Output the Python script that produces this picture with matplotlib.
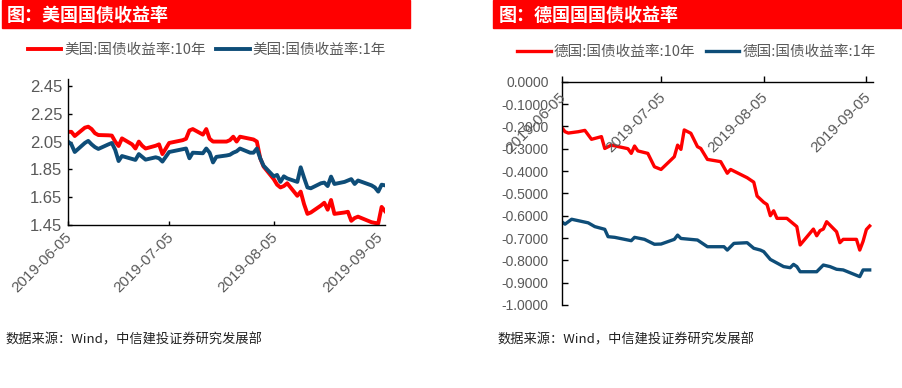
import matplotlib
matplotlib.use('Agg')
import matplotlib.pyplot as plt
import matplotlib.transforms as mtransforms
from matplotlib.patches import Rectangle
from matplotlib.font_manager import FontProperties
import pandas as pd

plt.rcParams['font.family'] = ['Liberation Sans', 'Noto Sans CJK SC', 'DejaVu Sans']
CJK = ['Noto Sans CJK SC', 'DejaVu Sans']

# ---------------- data ----------------
us_dates = ['2019-06-05', '2019-06-06', '2019-06-07', '2019-06-10', '2019-06-11', '2019-06-12',
            '2019-06-13', '2019-06-14', '2019-06-17', '2019-06-18', '2019-06-19', '2019-06-20',
            '2019-06-21', '2019-06-24', '2019-06-25', '2019-06-26', '2019-06-27', '2019-06-28',
            '2019-07-01', '2019-07-02', '2019-07-03', '2019-07-05', '2019-07-08', '2019-07-09',
            '2019-07-10', '2019-07-11', '2019-07-12', '2019-07-15', '2019-07-16', '2019-07-17',
            '2019-07-18', '2019-07-19', '2019-07-22', '2019-07-23', '2019-07-24', '2019-07-25',
            '2019-07-26', '2019-07-29', '2019-07-30', '2019-07-31',
            '2019-08-01', '2019-08-02', '2019-08-05', '2019-08-06', '2019-08-07', '2019-08-08',
            '2019-08-09', '2019-08-12', '2019-08-13', '2019-08-14', '2019-08-15', '2019-08-16',
            '2019-08-19', '2019-08-20', '2019-08-21', '2019-08-22', '2019-08-23', '2019-08-26',
            '2019-08-27', '2019-08-28', '2019-08-29', '2019-08-30',
            '2019-09-03', '2019-09-04', '2019-09-05', '2019-09-06', '2019-09-07']
us_10y = [2.12, 2.12, 2.09, 2.15, 2.157, 2.14, 2.11, 2.097, 2.095, 2.093, 2.05, 2.018,
          2.073, 2.03, 2.00, 2.05, 2.02, 2.00,
          2.02, 2.03, 1.96, 2.04, 2.055, 2.06, 2.07, 2.13, 2.14, 2.10, 2.14, 2.07,
          2.05, 2.05, 2.05, 2.06, 2.085, 2.05, 2.085, 2.07, 2.065, 2.05,
          1.93, 1.87, 1.78, 1.74, 1.72, 1.73, 1.75, 1.66, 1.69, 1.60, 1.53, 1.54,
          1.59, 1.61, 1.56, 1.63, 1.53, 1.54, 1.545, 1.48, 1.50, 1.51,
          1.47, 1.465, 1.462, 1.58, 1.55]
us_1y = [2.05, 2.03, 1.975, 2.04, 2.055, 2.03, 2.01, 1.997, 2.03, 2.04, 1.99, 1.91,
         1.946, 1.925, 1.918, 1.96, 1.94, 1.92,
         1.937, 1.93, 1.906, 1.975, 1.99, 1.995, 2.00, 1.93, 1.97, 1.966, 2.00, 1.97,
         1.90, 1.94, 1.95, 1.955, 1.97, 1.98, 2.00, 1.97, 1.97, 2.00,
         1.93, 1.876, 1.80, 1.81, 1.76, 1.80, 1.785, 1.76, 1.865, 1.79, 1.72, 1.714,
         1.75, 1.755, 1.73, 1.798, 1.745, 1.76, 1.77, 1.78, 1.745, 1.77,
         1.735, 1.72, 1.69, 1.74, 1.735]

de10_dates = ['2019-06-05', '2019-06-06', '2019-06-07', '2019-06-10', '2019-06-12', '2019-06-14',
              '2019-06-17', '2019-06-18', '2019-06-20', '2019-06-25', '2019-06-26', '2019-06-27',
              '2019-06-28', '2019-07-01', '2019-07-03', '2019-07-05', '2019-07-09', '2019-07-10',
              '2019-07-11', '2019-07-12', '2019-07-14', '2019-07-16', '2019-07-17', '2019-07-19',
              '2019-07-23', '2019-07-25', '2019-07-26', '2019-07-31', '2019-08-01', '2019-08-02',
              '2019-08-03', '2019-08-05', '2019-08-06', '2019-08-07', '2019-08-08', '2019-08-09',
              '2019-08-12', '2019-08-15', '2019-08-16', '2019-08-20', '2019-08-21', '2019-08-22',
              '2019-08-23', '2019-08-24', '2019-08-27', '2019-08-28', '2019-08-29', '2019-09-02',
              '2019-09-03', '2019-09-04', '2019-09-05', '2019-09-06']
de_10y = [-0.205, -0.224, -0.230, -0.224, -0.218, -0.258,
          -0.246, -0.299, -0.284, -0.300, -0.321, -0.288,
          -0.310, -0.321, -0.381, -0.393, -0.336, -0.284,
          -0.303, -0.216, -0.231, -0.291, -0.299, -0.348,
          -0.358, -0.410, -0.393, -0.430, -0.440, -0.450,
          -0.512, -0.540, -0.550, -0.600, -0.578, -0.612,
          -0.612, -0.649, -0.731, -0.660, -0.690, -0.667,
          -0.660, -0.627, -0.672, -0.721, -0.706, -0.706,
          -0.754, -0.715, -0.662, -0.646]

de1_dates = ['2019-06-05', '2019-06-06', '2019-06-08', '2019-06-13', '2019-06-15', '2019-06-18',
             '2019-06-19', '2019-06-21', '2019-06-26', '2019-06-27', '2019-06-30', '2019-07-03',
             '2019-07-05', '2019-07-09', '2019-07-10', '2019-07-11', '2019-07-16', '2019-07-19',
             '2019-07-24', '2019-07-25', '2019-07-27', '2019-07-31', '2019-08-02', '2019-08-04',
             '2019-08-05', '2019-08-07', '2019-08-11', '2019-08-13', '2019-08-14', '2019-08-15',
             '2019-08-16', '2019-08-21', '2019-08-23', '2019-08-25', '2019-08-27', '2019-08-29',
             '2019-09-03', '2019-09-04', '2019-09-06']
de_1y = [-0.627, -0.638, -0.616, -0.632, -0.649, -0.661,
         -0.694, -0.697, -0.712, -0.697, -0.706, -0.728,
         -0.727, -0.706, -0.687, -0.702, -0.709, -0.739,
         -0.739, -0.754, -0.724, -0.721, -0.746, -0.754,
         -0.761, -0.796, -0.828, -0.833, -0.818, -0.828,
         -0.851, -0.851, -0.821, -0.828, -0.840, -0.843,
         -0.873, -0.843, -0.843]

date_ticks = ['2019-06-05', '2019-07-05', '2019-08-05', '2019-09-05']
us_yticks = [1.45, 1.65, 1.85, 2.05, 2.25, 2.45]
de_yticks = [0.0, -0.1, -0.2, -0.3, -0.4, -0.5, -0.6, -0.7, -0.8, -0.9, -1.0]

us_labels = ['美国:国债收益率:10年', '美国:国债收益率:1年']
de_labels = ['德国:国债收益率:10年', '德国:国债收益率:1年']
titles = ['图：美国国债收益率', '图：德国国国债收益率']
source = '数据来源：Wind，中信建投证券研究发展部'

RED = '#FF0000'
BLUE = '#0E4D78'
GRAY = '#595959'

W, H = 903, 388
fig = plt.figure(figsize=(W / 100, H / 100), dpi=100)


def fr(x0, y0, x1, y1):
    return [x0 / W, 1 - y1 / H, (x1 - x0) / W, (y1 - y0) / H]


ax1 = fig.add_axes(fr(68, 79, 385, 225))
ax2 = fig.add_axes(fr(561.7, 81.7, 873, 305))

# title bars
for (x0, x1, tx), t in zip([(2, 410, 7), (493, 903, 499)], titles):
    fig.add_artist(Rectangle((x0 / W, 1 - 28 / H), (x1 - x0) / W, 28 / H,
                             transform=fig.transFigure, color=RED, zorder=0))
    fig.text(tx / W, 1 - 15 / H, t, color='white', fontsize=13, fontweight='bold',
             va='center', ha='left', family=CJK)

# footers
for x in (5, 497):
    fig.text(x / W, 1 - 340 / H, source, fontsize=9.5, style='italic', color='#222222',
             va='center', ha='left', family=CJK)

ticks_dt = pd.to_datetime(date_ticks)

# ---------- left: US ----------
l1, = ax1.plot(pd.to_datetime(us_dates), us_10y, color=RED, lw=2.8, solid_joinstyle='round')
l2, = ax1.plot(pd.to_datetime(us_dates), us_1y, color=BLUE, lw=2.8, solid_joinstyle='round')
ax1.set_xlim(pd.Timestamp('2019-06-05'), pd.Timestamp('2019-09-07'))
ax1.set_ylim(1.45, 2.50)
ax1.set_yticks(us_yticks)
ax1.set_yticklabels([f'{v:.2f}' for v in us_yticks])
ax1.set_xticks(ticks_dt)
ax1.tick_params(axis='both', direction='in', length=3, width=1, color='black',
                labelcolor=GRAY)
ax1.tick_params(axis='y', labelsize=12, pad=4)
ax1.tick_params(axis='x', labelbottom=False)
for s in ('top', 'right'):
    ax1.spines[s].set_visible(False)
for s in ('left', 'bottom'):
    ax1.spines[s].set_linewidth(1)
    ax1.spines[s].set_color('black')

for d, lbl in zip(ticks_dt, date_ticks):
    tr = mtransforms.offset_copy(ax1.get_xaxis_transform(), fig=fig, x=7, y=-5, units='dots')
    ax1.text(d, 0, lbl, rotation=45, ha='right', va='top', transform=tr,
             fontsize=11, color=GRAY, clip_on=False)

ax1.legend([l1, l2], us_labels, loc='center', bbox_to_anchor=(0.4385, 1.199), ncol=2,
           frameon=False, handlelength=2.3, handletextpad=0.2, columnspacing=0.7,
           prop=FontProperties(family=CJK, size=10.5), labelcolor=GRAY, borderaxespad=0)

# ---------- right: Germany ----------
r1, = ax2.plot(pd.to_datetime(de10_dates), de_10y, color=RED, lw=2.4, solid_joinstyle='round')
r2, = ax2.plot(pd.to_datetime(de1_dates), de_1y, color=BLUE, lw=2.4, solid_joinstyle='round')
ax2.set_xlim(pd.Timestamp('2019-06-05'), pd.Timestamp('2019-09-07'))
ax2.set_ylim(-1.0, 0.0)
ax2.set_yticks(de_yticks)
ax2.set_yticklabels([f'{v:.4f}' for v in de_yticks])
ax2.set_xticks(ticks_dt)
ax2.xaxis.set_ticks_position('top')
ax2.tick_params(axis='x', direction='out', length=4, width=1, color='black',
                labeltop=False, labelbottom=False)
ax2.tick_params(axis='y', direction='in', length=4, width=1, color='black',
                labelcolor=GRAY, labelsize=10, pad=9.5)
for s in ('bottom', 'right'):
    ax2.spines[s].set_visible(False)
for s in ('left', 'top'):
    ax2.spines[s].set_linewidth(1)
    ax2.spines[s].set_color('black')

for d, lbl in zip(ticks_dt, date_ticks):
    tr = mtransforms.offset_copy(ax2.get_xaxis_transform(), fig=fig, x=7, y=-8, units='dots')
    ax2.text(d, 1, lbl, rotation=45, ha='right', va='top', transform=tr,
             fontsize=11, color=GRAY, clip_on=False)

ax2.legend([r1, r2], de_labels, loc='center', bbox_to_anchor=(0.433, 1.133), ncol=2,
           frameon=False, handlelength=2.3, handletextpad=0.2, columnspacing=0.7,
           prop=FontProperties(family=CJK, size=10.5), labelcolor=GRAY, borderaxespad=0)

fig.savefig('out.png', dpi=100)
